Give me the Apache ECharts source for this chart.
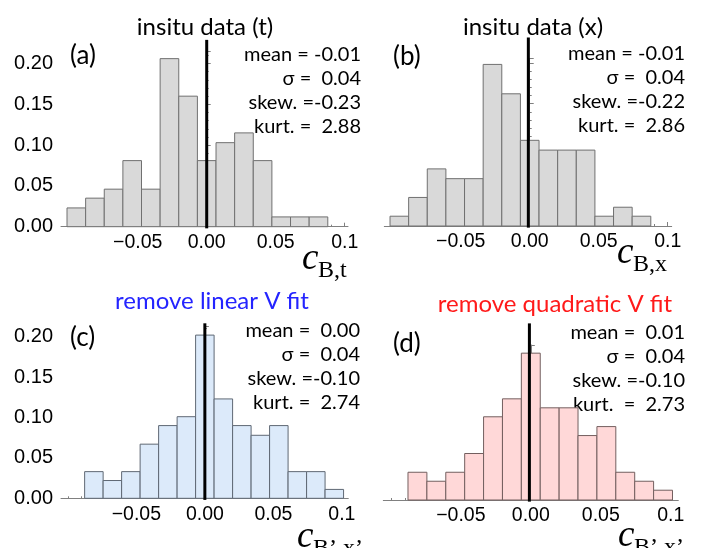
<!DOCTYPE html>
<html>
<head>
<meta charset="utf-8">
<script src="https://cdn.jsdelivr.net/npm/echarts@6/dist/echarts.min.js"></script>
<style>
  html, body { margin: 0; padding: 0; background: #fff; }
  #main { width: 703px; height: 548px; }
</style>
</head>
<body>
<div id="main"></div>
<script>
// bin edges (x value) and relative frequency per bin
const binEdgesAB = [-0.10125, -0.08775, -0.07425, -0.06075, -0.04725, -0.03375, -0.02025, -0.00675,
  0.00675, 0.02025, 0.03375, 0.04725, 0.06075, 0.07425, 0.08775]
const binEdgesCD = [-0.08775, -0.07425, -0.06075, -0.04725, -0.03375, -0.02025, -0.00675, 0.00675,
  0.02025, 0.03375, 0.04725, 0.06075, 0.07425, 0.08775, 0.10125]

const freqA = [0.023, 0.035, 0.046, 0.081, 0.046, 0.206, 0.160, 0.081, 0.103, 0.115, 0.081, 0.012, 0.012, 0.012]
const freqB = [0.012, 0.035, 0.070, 0.058, 0.058, 0.198, 0.162, 0.105, 0.093, 0.093, 0.093, 0.012, 0.023, 0.012]
const freqC = [0.033, 0.022, 0.033, 0.067, 0.090, 0.101, 0.202, 0.123, 0.090, 0.078, 0.090, 0.033, 0.033, 0.011]
const freqD = [0.034, 0.023, 0.034, 0.057, 0.102, 0.124, 0.180, 0.113, 0.113, 0.079, 0.090, 0.034, 0.023, 0.012]

// vertical reference line position per panel
const refLineX = [0, -0.001, 0, -0.001]

const xTickLabels = [-0.05, 0, 0.05, 0.1]
const xMinorTicks = [-0.1, -0.09, -0.08, -0.07, -0.06, -0.05, -0.04, -0.03, -0.02, -0.01, 0,
  0.01, 0.02, 0.03, 0.04, 0.05, 0.06, 0.07, 0.08, 0.09, 0.1]
const yTickLabels = [0, 0.05, 0.1, 0.15, 0.2]

const titles = ['insitu data (t)', 'insitu data (x)', 'remove linear V fit', 'remove quadratic V fit']
const panelTags = ['(a)', '(b)', '(c)', '(d)']
const statsText = [
  ['mean = -0.01', 'σ =  0.04', 'skew. =-0.23', 'kurt. =  2.88'],
  ['mean = -0.01', 'σ =  0.04', 'skew. =-0.22', 'kurt. =  2.86'],
  ['mean =  0.00', 'σ =  0.04', 'skew. =-0.10', 'kurt. =  2.74'],
  ['mean =  0.01', 'σ =  0.04', 'skew. =-0.10', 'kurt.  =  2.73']
]
const axisSubs = ['B,t', 'B,x', 'B’,x’', 'B’,x’']

const panels = [
  { grid: { left: 61, top: 51.7, width: 287, height: 175 }, xMin: -0.1056, xMax: 0.1024, yMax: 0.2145,
    showY: true, edges: binEdgesAB, freq: freqA, fill: '#d9d9d9', stroke: '#707070', lineTop: 0.229,
    title: [205, 27, '#000'], tag: [70, 56], stats: [361, 54.3], name: [302, 278] },
  { grid: { left: 384.3, top: 58.3, width: 287.4, height: 167.7 }, xMin: -0.1054, xMax: 0.1029, yMax: 0.2055,
    showY: false, edges: binEdgesAB, freq: freqB, fill: '#d9d9d9', stroke: '#707070', lineTop: 0.231,
    title: [533, 27, '#000'], tag: [393, 57], stats: [685, 53.3], name: [617, 272] },
  { grid: { left: 61, top: 326.7, width: 287.3, height: 171.6 }, xMin: -0.105, xMax: 0.1047, yMax: 0.2124,
    showY: true, edges: binEdgesCD, freq: freqC, fill: '#dceafa', stroke: '#5f6874', lineTop: 0.2166,
    title: [212, 301, '#2424ff'], tag: [70, 338], stats: [360, 331], name: [297, 556] },
  { grid: { left: 383.3, top: 345, width: 295, height: 155 }, xMin: -0.1054, xMax: 0.1054, yMax: 0.19,
    showY: false, edges: binEdgesCD, freq: freqD, fill: '#ffd8d8', stroke: '#735f5f', lineTop: 0.2165,
    title: [555, 304, '#ff1a1a'], tag: [393, 344], stats: [685, 332.3], name: [618, 555] }
]

const axisGray = '#808080'
const sansUI = 'Lato, "Open Sans", sans-serif'
const serif = '"Liberation Serif", "DejaVu Serif", serif'

function fmtX(v) {
  if (Math.abs(v - 0.1) < 1e-9) return '0.1'
  return v.toFixed(2).replace('-', '−')
}

const grids = []
const xAxes = []
const yAxes = []
const series = []
const graphic = []

panels.forEach((p, i) => {
  grids.push(p.grid)
  // main x axis with labels
  xAxes.push({
    type: 'value', gridIndex: i, min: p.xMin, max: p.xMax,
    axisLine: { lineStyle: { color: axisGray, width: 1 } },
    axisTick: { show: true, inside: true, length: 4, customValues: xTickLabels, lineStyle: { color: axisGray } },
    axisLabel: { customValues: xTickLabels, formatter: fmtX, fontSize: 19.5, color: '#000',
      fontFamily: '"Liberation Sans", Arial, sans-serif', margin: 6 },
    splitLine: { show: false }
  })
  // minor ticks only
  xAxes.push({
    type: 'value', gridIndex: i, min: p.xMin, max: p.xMax, position: 'bottom',
    axisLine: { show: false },
    axisTick: { show: true, inside: true, length: 2, customValues: xMinorTicks, lineStyle: { color: axisGray } },
    axisLabel: { show: false },
    splitLine: { show: false }
  })
  yAxes.push({
    type: 'value', gridIndex: i, min: 0, max: p.yMax, interval: 0.05,
    axisLine: { show: true, lineStyle: { color: axisGray, width: 1 } },
    axisTick: { show: true, inside: true, length: 4, lineStyle: { color: axisGray } },
    minorTick: { show: true, splitNumber: 5, length: 2, lineStyle: { color: axisGray } },
    axisLabel: { show: p.showY, customValues: yTickLabels, formatter: v => v.toFixed(2), fontSize: 20,
      color: '#000', fontFamily: '"Liberation Sans", Arial, sans-serif', margin: 8 },
    splitLine: { show: false }
  })

  const bars = p.freq.map((f, k) => [p.edges[k], p.edges[k + 1], f])
  series.push({
    type: 'custom',
    xAxisIndex: i * 2,
    yAxisIndex: i,
    data: bars,
    encode: { x: [0, 1], y: 2 },
    renderItem(params, api) {
      const a = api.coord([api.value(0), api.value(2)])
      const b = api.coord([api.value(1), 0])
      return {
        type: 'rect',
        shape: { x: a[0], y: a[1], width: b[0] - a[0], height: b[1] - a[1] },
        style: { fill: p.fill, stroke: p.stroke, lineWidth: 1 }
      }
    },
    z: 2
  })
  series.push({
    type: 'custom',
    xAxisIndex: i * 2,
    yAxisIndex: i,
    clip: false,
    data: [[refLineX[i], -0.002, p.lineTop]],
    encode: { x: 0, y: [1, 2] },
    renderItem(params, api) {
      const a = api.coord([api.value(0), api.value(1)])
      const b = api.coord([api.value(0), api.value(2)])
      return {
        type: 'line',
        shape: { x1: a[0], y1: a[1], x2: b[0], y2: b[1] },
        style: { stroke: '#000', lineWidth: 3 }
      }
    },
    z: 5
  })

  graphic.push({
    type: 'text', x: p.title[0], y: p.title[1],
    style: { text: titles[i], fontSize: 24, fontFamily: sansUI, fill: p.title[2], align: 'center', verticalAlign: 'middle' }
  })
  graphic.push({
    type: 'text', x: p.tag[0], y: p.tag[1],
    style: { text: panelTags[i], fontSize: 26, fontFamily: sansUI, fill: '#000', align: 'left', verticalAlign: 'middle' }
  })
  statsText[i].forEach((s, k) => {
    graphic.push({
      type: 'text', x: p.stats[0], y: p.stats[1] + k * 24,
      style: { text: s, fontSize: 20, fontFamily: sansUI, fill: '#000', align: 'right', verticalAlign: 'middle' }
    })
  })
  graphic.push({
    type: 'text', x: p.name[0], y: p.name[1],
    style: { text: 'c', fontSize: 37, fontStyle: 'italic', fontFamily: serif,
      fill: '#000', align: 'left', verticalAlign: 'bottom' }
  })
  graphic.push({
    type: 'text', x: p.name[0] + 16, y: p.name[1] + 5,
    style: { text: axisSubs[i], fontSize: 24, fontFamily: serif,
      fill: '#000', align: 'left', verticalAlign: 'bottom' }
  })
})

const chart = echarts.init(document.getElementById('main'), null, { renderer: 'canvas' })
chart.setOption({
  animation: false,
  backgroundColor: '#fff',
  grid: grids,
  xAxis: xAxes,
  yAxis: yAxes,
  series: series,
  graphic: graphic
})
</script>
</body>
</html>
